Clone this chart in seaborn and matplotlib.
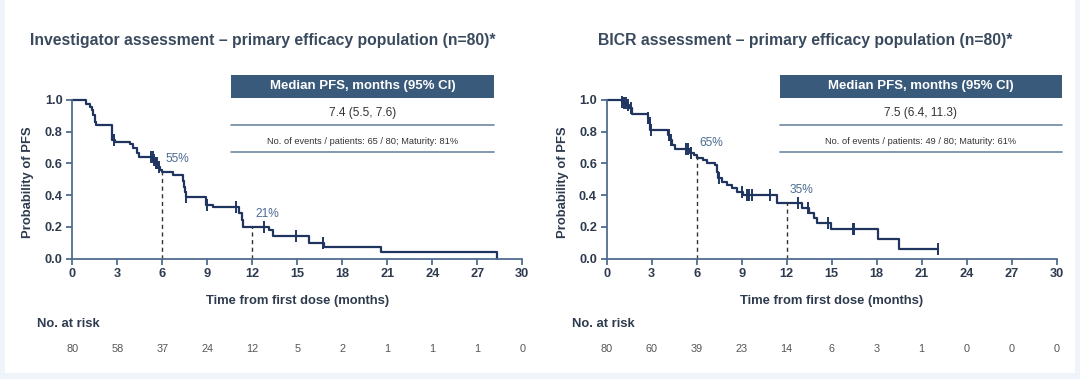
import numpy as np
import pandas as pd
import seaborn as sns
import matplotlib.pyplot as plt
from matplotlib.patches import Rectangle
from matplotlib.lines import Line2D

# Investigator assessment (step times, survival after step, censored times)
inv_times = [0.91, 1.18, 1.33, 1.40, 1.51, 1.58, 2.67, 2.84, 3.84, 4.07, 4.29, 4.47,
             5.40, 5.50, 5.70, 5.85, 6.00, 6.73, 7.40, 7.45, 7.50, 7.55, 8.90, 9.40,
             11.10, 11.30, 11.40, 13.10, 13.40, 15.80, 16.75, 20.60, 28.30]
inv_surv = [0.975, 0.958, 0.937, 0.905, 0.863, 0.842, 0.747, 0.737, 0.720, 0.695, 0.663, 0.638,
            0.620, 0.600, 0.580, 0.560, 0.545, 0.524, 0.490, 0.450, 0.420, 0.385, 0.337, 0.322,
            0.284, 0.242, 0.200, 0.180, 0.143, 0.100, 0.075, 0.038, 0.0]
inv_cens = [2.8, 5.25, 5.35, 5.45, 5.55, 5.65, 5.75, 7.6, 9.0, 10.9, 12.8, 14.9, 16.7]
inv_end = 28.3
inv_risk = [80, 58, 37, 24, 12, 5, 2, 1, 1, 1, 0]
inv_landmarks = [6, 12]
inv_labels = ["55%", "21%"]
inv_title = "Investigator assessment – primary efficacy population (n=80)*"
inv_median = "7.4 (5.5, 7.6)"
inv_events = "No. of events / patients: 65 / 80; Maturity: 81%"

# BICR assessment
bicr_times = [1.00, 1.11, 1.33, 1.51, 1.67, 2.73, 2.84, 2.89, 4.11, 4.22, 4.33, 4.55,
              5.56, 5.80, 6.05, 6.44, 6.67, 7.22, 7.38, 7.44, 7.67, 8.00, 8.33, 8.67,
              9.11, 11.38, 13.00, 13.51, 13.84, 14.00, 14.98, 18.07, 19.50]
bicr_surv = [0.990, 0.980, 0.968, 0.947, 0.912, 0.884, 0.853, 0.810, 0.779, 0.747, 0.716, 0.690,
             0.665, 0.650, 0.635, 0.621, 0.604, 0.589, 0.547, 0.505, 0.484, 0.463, 0.442, 0.421,
             0.400, 0.350, 0.316, 0.284, 0.253, 0.225, 0.185, 0.120, 0.057]
bicr_cens = [1.0, 1.15, 1.3, 1.45, 1.6, 2.78, 2.87, 2.92, 4.15, 4.27, 5.29, 5.44, 5.6, 7.5,
             9.0, 9.33, 9.5, 9.67, 10.9, 12.78, 13.45, 14.75, 16.4, 16.5, 22.07]
bicr_end = 22.07
bicr_risk = [80, 60, 39, 23, 14, 6, 3, 1, 0, 0, 0]
bicr_landmarks = [6, 12]
bicr_labels = ["65%", "35%"]
bicr_title = "BICR assessment – primary efficacy population (n=80)*"
bicr_median = "7.5 (6.4, 11.3)"
bicr_events = "No. of events / patients: 49 / 80; Maturity: 61%"

risk_months = list(range(0, 31, 3))

W, H = 1080, 379
NAVY = "#1f3560"
SPINE = "#4f6d90"
TXT = "#2e3b4e"
HEAD = "#3a5a7c"
LINE = "#6d87a3"

sns.set_theme(style="ticks")
plt.rcParams["font.family"] = ["Liberation Sans", "DejaVu Sans"]


def surv_at(times, surv, t):
    i = np.searchsorted(times, t, side="right")
    return 1.0 if i == 0 else surv[i - 1]


def fx(px):
    return px / W


def fy(py):
    return 1 - py / H


fig = plt.figure(figsize=(W / 100, H / 100), dpi=100, facecolor="#eef4fa")
# white card with a thin light-blue frame
fig.add_artist(Rectangle((fx(5), fy(373)), fx(1070), (373 - 0) / H, transform=fig.transFigure,
                         facecolor="white", edgecolor="none", zorder=-5))

panels = [
    (72.3, 522.3, 30, 231, 494, inv_times, inv_surv, inv_cens, inv_end, inv_risk,
     inv_landmarks, inv_labels, inv_title, inv_median, inv_events),
    (606.7, 1056.7, 598, 780, 1062, bicr_times, bicr_surv, bicr_cens, bicr_end, bicr_risk,
     bicr_landmarks, bicr_labels, bicr_title, bicr_median, bicr_events),
]

for k, (x0, x1, tx, bx0, bx1, times, surv, cens, end, risk,
        marks, labels, title, median, events) in enumerate(panels):
    ax = fig.add_axes([fx(x0), fy(258.5), fx(x1 - x0), (258.5 - 100) / H])
    ax.set_facecolor("none")

    curve = pd.DataFrame({"t": [0] + times + [end],
                          "s": [1.0] + surv + [surv[-1]]})
    sns.lineplot(data=curve, x="t", y="s", ax=ax, drawstyle="steps-post",
                 estimator=None, sort=False, color=NAVY, linewidth=1.6)
    cy = [surv_at(times, surv, c) for c in cens]
    sns.scatterplot(x=cens, y=cy, ax=ax, marker="|", s=85, color=NAVY,
                    linewidth=1.4, zorder=4)
    for line in ax.lines:
        line.set_clip_on(False)
    for coll in ax.collections:
        coll.set_clip_on(False)

    for m, lab in zip(marks, labels):
        v = surv_at(times, surv, m)
        ax.plot([m, m], [0, v], ls=(0, (3, 2.5)), color="#333333", lw=1.0)
        ax.text(m + 0.2, v + 0.08, lab, color="#4a6a90", fontsize=8.6,
                ha="left", va="center")

    ax.set_xlim(0, 30)
    ax.set_ylim(0, 1)
    ax.set_xticks(risk_months)
    ax.set_yticks(np.arange(0, 1.01, 0.2))
    ax.set_yticklabels([f"{v:.1f}" for v in np.arange(0, 1.01, 0.2)])
    sns.despine(ax=ax)
    for side in ["left", "bottom"]:
        ax.spines[side].set_color(SPINE)
        ax.spines[side].set_linewidth(1.3)
    ax.tick_params(colors=SPINE, labelcolor=TXT, length=4, width=1.3, labelsize=9.2, pad=3)
    for t in ax.get_xticklabels() + ax.get_yticklabels():
        t.set_fontweight("bold")

    ax.set_xlabel("Time from first dose (months)", fontsize=9.4, fontweight="bold", color=TXT)
    ax.set_ylabel("Probability of PFS", fontsize=9.4, fontweight="bold", color=TXT)
    ax.xaxis.set_label_coords(0.5, (258.5 - 301) / 158.5)
    ax.xaxis.label.set_va("center")
    ax.yaxis.set_label_coords((28 + 535 * k - x0) / (x1 - x0), 0.48)
    ax.yaxis.label.set_va("center")

    # title
    fig.text(fx(tx), fy(41), title, fontsize=11.3, fontweight="bold",
             color="#3a4a5e", ha="left", va="center")

    # info box
    fig.add_artist(Rectangle((fx(bx0), fy(98)), fx(bx1 - bx0), (98 - 75) / H,
                             transform=fig.transFigure, facecolor=HEAD, edgecolor="none"))
    cx = fx((bx0 + bx1) / 2)
    fig.text(cx, fy(86.5), "Median PFS, months (95% CI)", fontsize=9.5,
             fontweight="bold", color="white", ha="center", va="center")
    fig.text(cx, fy(113), median, fontsize=8.6, color="#333333", ha="center", va="center")
    fig.text(cx, fy(141), events, fontsize=6.7, color="#333333", ha="center", va="center")
    for ly in [125, 152]:
        fig.add_artist(Line2D([fx(bx0), fx(bx1)], [fy(ly), fy(ly)],
                              transform=fig.transFigure, color=LINE, lw=1.2))

    # number at risk
    fig.text(fx(37 + 535 * k), fy(324), "No. at risk", fontsize=9.4,
             fontweight="bold", color=TXT, ha="left", va="center")
    for m, r in zip(risk_months, risk):
        px = x0 + (x1 - x0) * m / 30
        fig.text(fx(px), fy(349), str(r), fontsize=7.8, color="#555555",
                 ha="center", va="center")

fig.savefig("out.png", dpi=100, facecolor=fig.get_facecolor())
